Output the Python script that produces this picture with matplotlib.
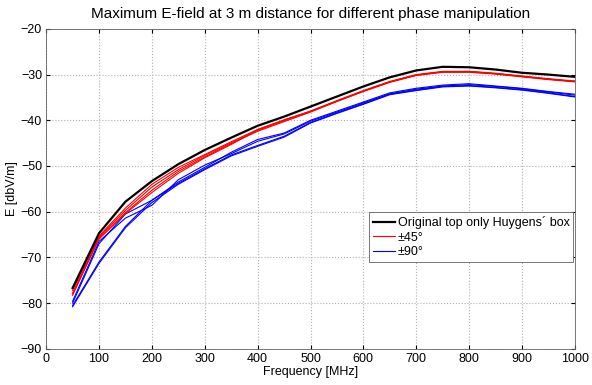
import matplotlib
matplotlib.use('Agg')
import matplotlib.pyplot as plt

plt.rcParams['font.family'] = ['Liberation Sans', 'DejaVu Sans']

freq = [50, 100, 150, 200, 250, 300, 350, 400, 450, 500,
        550, 600, 650, 700, 750, 800, 850, 900, 950, 1000]

original = [-76.7, -64.7, -57.8, -53.3, -49.6, -46.5, -43.8, -41.2, -39.2, -37.0,
            -34.8, -32.6, -30.6, -29.1, -28.3, -28.4, -28.9, -29.6, -30.0, -30.5]

red_45 = [
    [-77.2, -65.3, -59.2, -54.0, -50.3, -47.5, -44.7, -42.0, -39.9, -38.0,
     -35.7, -33.5, -31.5, -30.0, -29.3, -29.3, -29.7, -30.3, -30.9, -31.4],
    [-77.8, -65.5, -59.7, -54.6, -50.8, -47.7, -44.9, -42.2, -40.1, -38.1,
     -35.8, -33.6, -31.6, -30.1, -29.4, -29.4, -29.8, -30.4, -31.0, -31.5],
    [-78.3, -65.8, -60.2, -55.3, -51.2, -48.0, -45.1, -42.4, -40.3, -38.2,
     -35.9, -33.7, -31.7, -30.2, -29.5, -29.5, -29.9, -30.5, -31.1, -31.6],
    [-78.0, -66.0, -60.4, -55.8, -51.6, -48.2, -45.3, -42.1, -40.0, -38.0,
     -35.8, -33.6, -31.6, -30.1, -29.4, -29.3, -29.8, -30.4, -31.0, -31.5],
]

blue_90 = [
    [-79.6, -66.5, -61.4, -58.6, -53.0, -49.8, -47.3, -44.6, -43.0, -40.2,
     -38.2, -36.2, -34.2, -33.2, -32.5, -32.2, -32.6, -33.1, -33.8, -34.5],
    [-80.0, -67.0, -60.5, -57.5, -53.5, -50.3, -47.0, -44.2, -42.8, -40.0,
     -38.0, -36.0, -34.0, -33.0, -32.3, -32.0, -32.5, -33.0, -33.7, -34.3],
    [-80.5, -71.0, -63.2, -57.5, -53.8, -50.6, -47.6, -45.5, -43.5, -40.5,
     -38.4, -36.4, -34.3, -33.4, -32.6, -32.4, -32.8, -33.3, -34.0, -34.8],
    [-80.8, -71.3, -63.5, -58.0, -54.0, -50.8, -47.8, -45.7, -43.7, -40.6,
     -38.5, -36.5, -34.4, -33.5, -32.7, -32.5, -32.9, -33.4, -34.1, -34.9],
]

fig = plt.figure(figsize=(5.92, 3.85), dpi=100)
ax = fig.add_axes([0.078, 0.094, 0.893, 0.831])

ax.plot(freq, original, color='k', linewidth=1.6, label="Original top only Huygens\u00b4 box", zorder=4)
for i, r in enumerate(red_45):
    ax.plot(freq, r, color='r', linewidth=0.8, label="\u00b145\u00b0" if i == 0 else None, zorder=3)
for i, b in enumerate(blue_90):
    ax.plot(freq, b, color='b', linewidth=0.8, label="\u00b190\u00b0" if i == 0 else None, zorder=2)

ax.set_xlim(0, 1000)
ax.set_ylim(-90, -20)
ax.set_xticks(range(0, 1001, 100))
ax.set_yticks(range(-90, -19, 10))
ax.grid(True, color='#b0b0b0', linestyle=':', linewidth=0.8)
ax.tick_params(direction='in', top=True, right=True, labelsize=9, length=3, pad=3)
for s in ax.spines.values():
    s.set_linewidth(0.6)
    s.set_color('#606060')

ax.set_title("Maximum E-field at 3 m distance for different phase manipulation", fontsize=11, pad=8)
ax.set_xlabel("Frequency [MHz]", fontsize=9, labelpad=1)
ax.set_ylabel("E [dbV/m]", fontsize=9, labelpad=2)

leg = ax.legend(loc='lower right', bbox_to_anchor=(0.997, 0.272), fontsize=9,
                fancybox=False, framealpha=1, edgecolor='#606060',
                handlelength=1.8, handletextpad=0.2, borderpad=0.3,
                labelspacing=0.2, borderaxespad=0)
leg.get_frame().set_linewidth(0.6)

fig.savefig('out.png', dpi=100)
